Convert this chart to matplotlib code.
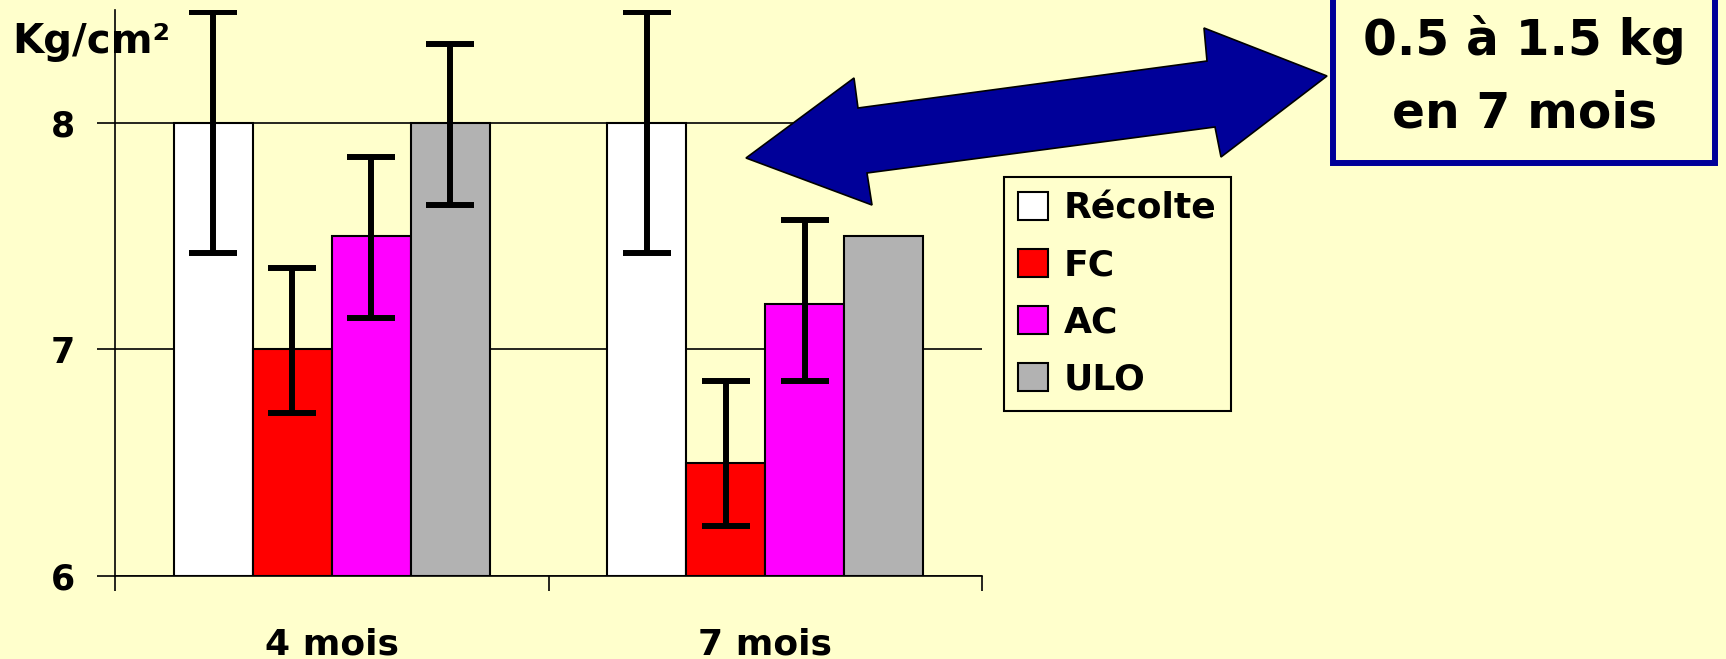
import numpy as np
import matplotlib
matplotlib.use("Agg")
import matplotlib.pyplot as plt
from matplotlib.patches import Polygon, Rectangle

# données
categories = ["4 mois", "7 mois"]
series = ["Récolte", "FC", "AC", "ULO"]
recolte = [8.0, 8.0]
fc = [7.0, 6.5]
ac = [7.5, 7.2]
ulo = [8.0, 7.5]
# barres d'erreur (bas, haut), None = pas de barre
recolte_err = [(0.575, 0.49), (0.575, 0.49)]
fc_err = [(0.28, 0.36), (0.28, 0.36)]
ac_err = [(0.36, 0.35), (0.34, 0.37)]
ulo_err = [(0.36, 0.35), None]
yticks = [6, 7, 8]

values = [recolte, fc, ac, ulo]
errors = [recolte_err, fc_err, ac_err, ulo_err]
colors = ["white", "#FF0000", "#FF00FF", "#B2B2B2"]

W, H = 1726, 659
bg = "#FFFFCC"
navy = "#000099"

plt.rcParams["font.family"] = "DejaVu Sans"
plt.rcParams["font.weight"] = "bold"

fig = plt.figure(figsize=(W / 100, H / 100), dpi=100, facecolor=bg)
ax = fig.add_axes([115 / W, 1 - 575.8 / H, (982 - 115) / W, (575.8 - 10) / H])
ax.set_facecolor(bg)

def px(x, y):
    # pixels (origine en haut à gauche) -> fraction de figure
    return (x / W, 1 - y / H)

x = np.arange(len(categories))
w = 0.182
handles = []
for i, (vals, errs, c, name) in enumerate(zip(values, errors, colors, series)):
    pos = x + (i - 1.5) * w
    b = ax.bar(pos, np.array(vals) - 6, bottom=6, width=w, color=c,
               edgecolor="black", linewidth=1.5, label=name, zorder=2)
    handles.append(b)
    for p, v, e in zip(pos, vals, errs):
        if e is None:
            continue
        ax.errorbar(p, v, yerr=[[e[0]], [e[1]]], fmt="none", ecolor="black",
                    elinewidth=4.3, capsize=17, capthick=4.3, zorder=3)

ax.set_ylim(6, 8.5)
ax.set_xlim(-0.5, 1.5)
ax.set_yticks(yticks)
ax.set_yticklabels([str(t) for t in yticks], fontsize=25, fontweight="bold")
ax.tick_params(axis="y", length=13, width=1.2, pad=16)
ax.set_xticks([-0.5, 0.5, 1.5])
ax.set_xticklabels([])
ax.set_xticks(x, minor=True)
ax.set_xticklabels(categories, minor=True, fontsize=26, fontweight="bold")
ax.tick_params(axis="x", which="major", length=11, width=1.2)
ax.tick_params(axis="x", which="minor", length=0, pad=37)
ax.yaxis.grid(True, color="black", linewidth=1.2)
ax.set_axisbelow(True)
for s in ["top", "right"]:
    ax.spines[s].set_visible(False)
for s in ["left", "bottom"]:
    ax.spines[s].set_linewidth(1.2)

fig.text(*px(12, 53), "Kg/cm²", ha="left", va="baseline",
         fontsize=29, fontweight="bold")

leg = ax.legend(handles=handles, loc="upper left",
                bbox_to_anchor=px(1004, 177), bbox_transform=fig.transFigure,
                borderaxespad=0, prop={"weight": "bold", "size": 26},
                handlelength=0.83, handleheight=0.83, handletextpad=0.42,
                labelspacing=0.64, borderpad=0.4, fancybox=False,
                framealpha=1, facecolor=bg, edgecolor="black")
leg.get_frame().set_linewidth(1.5)

# double flèche
arrow_pts = [(746, 158), (854, 78), (858, 108), (1207, 61), (1204, 28),
             (1327, 76), (1221, 157), (1215, 127), (867, 173), (872, 205)]
fig.patches.append(Polygon([px(a, b) for a, b in arrow_pts], closed=True,
                           transform=fig.transFigure, facecolor=navy,
                           edgecolor="black", linewidth=1.2))

# encadré
x0, y0 = px(1333, 163)
x1, y1 = px(1715, -20)
fig.patches.append(Rectangle((x0, y0), x1 - x0, y1 - y0,
                             transform=fig.transFigure, facecolor=bg,
                             edgecolor=navy, linewidth=4.3))
fig.text(*px(1524, 40), "0.5 à 1.5 kg", ha="center", va="center",
         fontsize=35, fontweight="bold")
fig.text(*px(1524, 114), "en 7 mois", ha="center", va="center",
         fontsize=35, fontweight="bold")

fig.savefig("out.png", dpi=100, facecolor=bg)
